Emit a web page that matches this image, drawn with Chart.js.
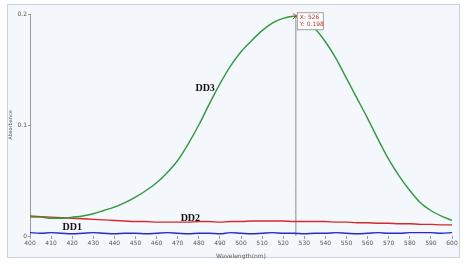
<!DOCTYPE html>
<html lang="en">
<head>
<meta charset="UTF-8">
<title>Absorbance spectra</title>
<script src="https://cdn.jsdelivr.net/npm/chart.js"></script>
<style>
    body {
        margin: 0;
        padding: 0;
        background-color: #ffffff;
    }
    .frame {
        position: relative;
        width: 463px;
        height: 264px;
    }
</style>
</head>
<body>
<div class="frame">
    <canvas id="specChart" width="463" height="264"></canvas>
</div>
<script>
// wavelength (nm)
var wavelengths = [400, 405, 410, 415, 420, 425, 430, 435, 440, 445, 450, 455, 460, 465, 470, 475, 480, 485, 490, 495,
                   500, 505, 510, 515, 520, 525, 530, 535, 540, 545, 550, 555, 560, 565, 570, 575, 580, 585, 590, 595, 600];
var dd3 = [0.017, 0.017, 0.016, 0.016, 0.017, 0.018, 0.020, 0.023, 0.026, 0.030, 0.035, 0.041, 0.048, 0.057, 0.068, 0.083, 0.100, 0.119, 0.137, 0.153,
           0.166, 0.176, 0.185, 0.192, 0.196, 0.198, 0.195, 0.187, 0.175, 0.160, 0.142, 0.124, 0.106, 0.087, 0.069, 0.054, 0.041, 0.030, 0.023, 0.018, 0.014];
var dd2 = [0.018, 0.0175, 0.017, 0.0165, 0.016, 0.0155, 0.015, 0.0145, 0.014, 0.0135, 0.013, 0.013, 0.0125, 0.0125, 0.0125, 0.0125, 0.013, 0.013, 0.0125, 0.013,
           0.013, 0.0135, 0.0135, 0.0135, 0.0135, 0.013, 0.013, 0.013, 0.013, 0.0125, 0.0125, 0.012, 0.012, 0.0115, 0.0115, 0.011, 0.011, 0.0105, 0.0105, 0.010, 0.010];
var dd1 = [0.003, 0.0025, 0.003, 0.0025, 0.002, 0.0025, 0.003, 0.0025, 0.002, 0.0025, 0.0025, 0.002, 0.0025, 0.003, 0.0025, 0.002, 0.0025, 0.0025, 0.002, 0.003,
           0.0025, 0.002, 0.0025, 0.003, 0.0025, 0.0025, 0.002, 0.0025, 0.0025, 0.003, 0.0025, 0.002, 0.0025, 0.003, 0.0025, 0.0025, 0.003, 0.003, 0.003, 0.0025, 0.003];
var xTicks = [400, 410, 420, 430, 440, 450, 460, 470, 480, 490, 500, 510, 520, 530, 540, 550, 560, 570, 580, 590, 600];
var yTicks = [0, 0.1, 0.2];
var cursorX = 526;
var cursorY = 0.198;
var seriesNames = ['DD3', 'DD2', 'DD1'];
var nameAt = [[483, 0.133], [476, 0.016], [420, 0.008]];

function pts(ys) {
    var out = [];
    for (var i = 0; i < wavelengths.length; i++) {
        out.push({x: wavelengths[i], y: ys[i]});
    }
    return out;
}

// light panel behind the plot
var panelPlugin = {
    id: 'panel',
    beforeDraw: function(chart) {
        var ctx = chart.ctx;
        ctx.save();
        ctx.fillStyle = '#f4f7fb';
        ctx.fillRect(7, 4, chart.width - 10, chart.height - 10);
        ctx.strokeStyle = '#c9d3df';
        ctx.lineWidth = 1;
        ctx.strokeRect(7.5, 4.5, chart.width - 11, chart.height - 11);
        ctx.restore();
    }
};

// series names + cursor readout
var labelPlugin = {
    id: 'labels',
    afterDatasetsDraw: function(chart) {
        var ctx = chart.ctx;
        var xs = chart.scales.x, ys = chart.scales.y;
        ctx.save();
        ctx.font = 'bold 10px "Liberation Serif", serif';
        ctx.fillStyle = '#111';
        ctx.textAlign = 'center';
        ctx.textBaseline = 'middle';
        for (var i = 0; i < seriesNames.length; i++) {
            ctx.fillText(seriesNames[i], xs.getPixelForValue(nameAt[i][0]), ys.getPixelForValue(nameAt[i][1]));
        }
        var px = xs.getPixelForValue(cursorX), py = ys.getPixelForValue(cursorY);
        // x marker
        ctx.strokeStyle = '#d03030';
        ctx.lineWidth = 1;
        ctx.beginPath();
        ctx.moveTo(px - 3, py - 3); ctx.lineTo(px + 3, py + 3);
        ctx.moveTo(px + 3, py - 3); ctx.lineTo(px - 3, py + 3);
        ctx.stroke();
        // readout box
        ctx.fillStyle = '#ffffff';
        ctx.fillRect(px + 1, py - 4, 26, 17);
        ctx.strokeStyle = '#a0a0a0';
        ctx.strokeRect(px + 1.5, py - 3.5, 26, 17);
        ctx.font = '6px "DejaVu Sans", sans-serif';
        ctx.fillStyle = '#c03030';
        ctx.textAlign = 'left';
        ctx.fillText('X: ' + cursorX, px + 4, py + 1);
        ctx.fillText('Y: ' + cursorY, px + 4, py + 8);
        ctx.restore();
    }
};

var ctx = document.getElementById('specChart').getContext('2d');
new Chart(ctx, {
    type: 'line',
    data: {
        datasets: [
            {label: 'DD3', data: pts(dd3), borderColor: '#2f9a3c', borderWidth: 1.4},
            {label: 'DD2', data: pts(dd2), borderColor: '#d42a2a', borderWidth: 1.4},
            {label: 'DD1', data: pts(dd1), borderColor: '#2a2ac8', borderWidth: 1.4},
            {label: 'cursor', data: [{x: cursorX, y: 0}, {x: cursorX, y: 0.2}], borderColor: '#8a8a8a', borderWidth: 1}
        ]
    },
    options: {
        responsive: false,
        animation: false,
        elements: {
            point: {radius: 0},
            line: {cubicInterpolationMode: 'monotone', fill: false}
        },
        layout: {padding: {left: 8, right: 11, top: 14, bottom: 4}},
        plugins: {
            legend: {display: false},
            tooltip: {enabled: false}
        },
        scales: {
            x: {
                type: 'linear',
                min: 400,
                max: 600,
                afterBuildTicks: function(axis) {
                    axis.ticks = xTicks.map(function(v) { return {value: v}; });
                },
                afterFit: function(axis) { axis.height = 24; },
                grid: {drawOnChartArea: false, tickLength: 3, color: '#9a9a9a'},
                border: {display: false},
                ticks: {font: {size: 6, family: 'DejaVu Sans'}, color: '#555', maxRotation: 0, padding: 1},
                title: {display: true, text: 'Wavelength(nm)', font: {size: 6, family: 'DejaVu Sans'}, color: '#555', padding: 0}
            },
            y: {
                type: 'linear',
                min: 0,
                max: 0.2,
                afterBuildTicks: function(axis) {
                    axis.ticks = yTicks.map(function(v) { return {value: v}; });
                },
                afterFit: function(axis) { axis.width = 22; },
                grid: {drawOnChartArea: false, tickLength: 2, color: '#9a9a9a'},
                border: {color: '#9a9a9a'},
                ticks: {font: {size: 6, family: 'DejaVu Sans'}, color: '#555', padding: 1},
                title: {display: true, text: 'Absorbance', font: {size: 5, family: 'DejaVu Sans'}, color: '#555', padding: 0}
            }
        }
    },
    plugins: [panelPlugin, labelPlugin]
});
</script>
</body>
</html>
